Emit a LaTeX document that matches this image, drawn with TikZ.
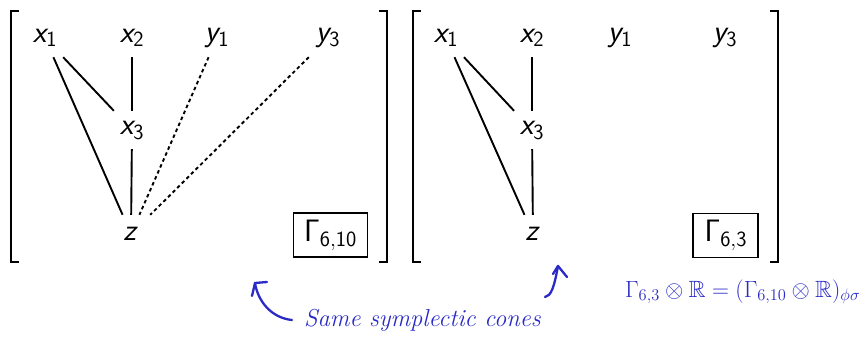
\RequirePackage{fix-cm}
\documentclass[tikz,border=0pt]{standalone}
\usepackage{amssymb}
\DeclareMathAlphabet{\mathsfit}{OT1}{cmss}{m}{sl}
\definecolor{hand}{RGB}{42,42,200}
\newcommand\vlab[2]{$\mathsfit{#1}_{\mathsf{#2}}$}
\begin{document}
\begin{tikzpicture}[x=1pt,y=-1pt,
  vert/.style={inner sep=0pt,minimum width=40pt,minimum height=38pt,font=\fontsize{31}{36}\selectfont},
  edge/.style={line width=1.9pt},
  dotedge/.style={line width=1.9pt,dash pattern=on 3.5pt off 3pt},
  brack/.style={line width=1.5pt},
  gbox/.style={draw,line width=1.9pt,minimum width=74pt,minimum height=44pt,inner sep=0pt,font=\fontsize{31}{36}\selectfont},
  handline/.style={hand,line width=2.3pt,line cap=round,line join=round},
  handtext/.style={hand,inner sep=0pt,font=\fontsize{24.5}{29}\selectfont\itshape}]
\useasboundingbox (0,0) rectangle (865,351);
% ---------- left box ----------
\draw[brack] (19,11) -- (11,11) -- (11,262) -- (19,262);
\draw[brack] (379,11) -- (387,11) -- (387,262) -- (379,262);
\node[vert] (ax1) at (45,38) {\vlab{x}{1}};
\node[vert] (ax2) at (132,38) {\vlab{x}{2}};
\node[vert] (ay1) at (217,38) {\vlab{y}{1}};
\node[vert] (ay3) at (328,38) {\vlab{y}{3}};
\node[vert] (ax3) at (132,130) {\vlab{x}{3}};
\node[vert] (az) at (131,234) {$\mathsfit{z}$};
\draw[edge] (ax1) -- (ax3);
\draw[edge] (ax1) -- (az);
\draw[edge] (ax2) -- (ax3);
\draw[edge] (ax3) -- (az);
\draw[dotedge] (ay1) -- (az);
\draw[dotedge] (ay3) -- (az);
\node[gbox] (ag) at (330.5,235.3) {$\mathsf{\Gamma}_{\mathsf{6,10}}$};
% ---------- right box ----------
\draw[brack] (421,11) -- (413,11) -- (413,262) -- (421,262);
\draw[brack] (770,11) -- (778,11) -- (778,262) -- (770,262);
\node[vert] (bx1) at (446,38) {\vlab{x}{1}};
\node[vert] (bx2) at (532,38) {\vlab{x}{2}};
\node[vert] (by1) at (620,38) {\vlab{y}{1}};
\node[vert] (by3) at (725,38) {\vlab{y}{3}};
\node[vert] (bx3) at (532,130) {\vlab{x}{3}};
\node[vert] (bz) at (533,234) {$\mathsfit{z}$};
\draw[edge] (bx1) -- (bx3);
\draw[edge] (bx1) -- (bz);
\draw[edge] (bx2) -- (bx3);
\draw[edge] (bx3) -- (bz);
\node[gbox,minimum width=65pt] (bg) at (725.8,235.5) {$\mathsf{\Gamma}_{\mathsf{6,3}}$};
% ---------- handwritten annotations ----------
\node[handtext,anchor=base west] (same) at (304,326) {Same symplectic cones};
\coordinate (la) at (255,283);
\draw[handline] (292,320) .. controls (272,318) and (258,302) .. (la);
\draw[handline] (252,296) -- (la) -- (267,282);
\coordinate (ra) at (558,266);
\draw[handline] (545,297) .. controls (551,296) and (554,288) .. (ra);
\draw[handline] (553,274) -- (ra) -- (567,277);
\node[handtext,font=\fontsize{23.5}{28}\selectfont,anchor=base west] (form) at (625,297)
  {$\Gamma_{6,3}\otimes\mathbb{R}=(\Gamma_{6,10}\otimes\mathbb{R})_{\phi\sigma}$};
\end{tikzpicture}
\end{document}
